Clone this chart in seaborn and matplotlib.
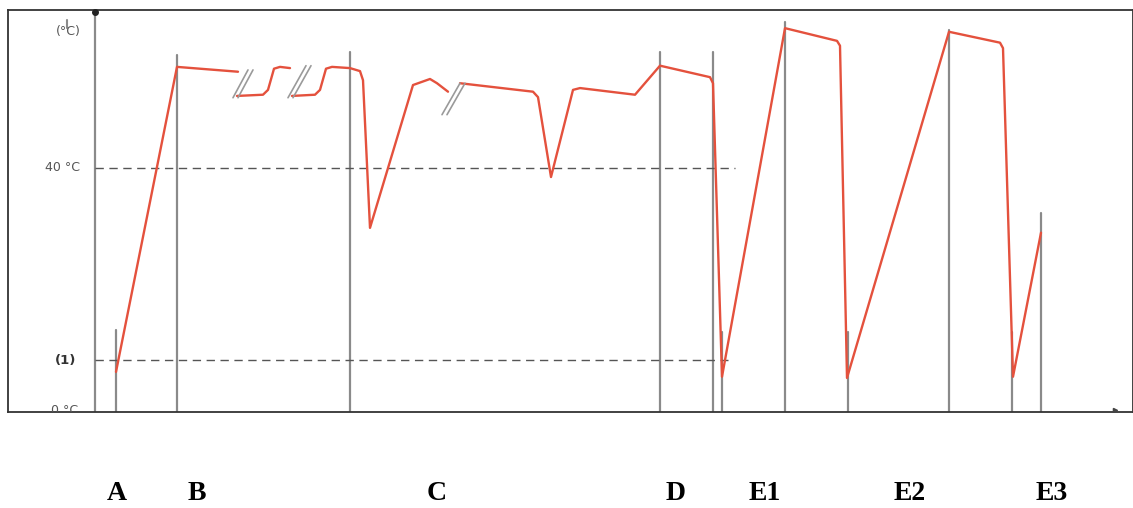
import numpy as np
import pandas as pd
import matplotlib
matplotlib.use("Agg")
import matplotlib.pyplot as plt
import seaborn as sns

# ---- data (time in arbitrary units, temperature in °C) ----
seg1_t = [116, 177, 238]
seg1_v = [6.3, 56.7, 55.9]
seg2_t = [237, 263, 268, 274, 280, 290]
seg2_v = [51.9, 52.1, 52.9, 56.4, 56.7, 56.5]
seg3_t = [292, 315, 320, 326, 332, 350, 360, 363, 370, 413, 430, 437, 448]
seg3_v = [51.9, 52.1, 52.9, 56.4, 56.7, 56.5, 56.0, 54.5, 30.1, 53.7, 54.7, 54.0, 52.6]
seg4_t = [460, 533, 538, 551, 573, 580, 635, 660, 710, 713, 722, 785, 837, 840, 847,
          949, 1000, 1003, 1013, 1041]
seg4_v = [54.0, 52.6, 51.7, 38.5, 52.9, 53.2, 52.1, 56.9, 55.0, 54.0, 5.5, 63.1, 61.0, 60.2, 5.3,
          62.5, 60.7, 59.8, 5.5, 29.3]

phase_t = [116, 177, 350, 660, 713, 722, 785, 848, 949, 1012, 1041]
phase_top = [13.2, 58.7, 59.2, 59.2, 59.2, 12.9, 64.1, 12.9, 62.8, 12.9, 32.6]

break_t0 = [233, 288, 442]
break_v0 = [51.6, 51.6, 48.8]
break_t1 = [248, 306, 460]
break_v1 = [56.2, 56.9, 54.0]

ref_levels = [40.0, 8.26]
ref_labels = ["40 °C", "(1)"]
ref_end = [735, 728]

phase_labels = ["A", "B", "C", "D", "E1", "E2", "E3"]
phase_label_x = [117, 197, 437, 676, 765, 910, 1052]

# ---- build dataframe ----
rows = []
for k, (tt, vv) in enumerate([(seg1_t, seg1_v), (seg2_t, seg2_v), (seg3_t, seg3_v), (seg4_t, seg4_v)]):
    for t, v in zip(tt, vv):
        rows.append({"t": t, "temp": v, "seg": k})
df = pd.DataFrame(rows)

sns.set_theme(style="white")
plt.rcParams["font.family"] = ["DejaVu Sans"]

W, H = 1133, 508
fig = plt.figure(figsize=(W / 100, H / 100), dpi=100)
ax = fig.add_axes([8 / W, (H - 412) / H, (W - 8) / W, (412 - 10) / H])

ymin, ymax = -0.33, 66.1
xmin, xmax = 8, 1133
ax.set_xlim(xmin, xmax)
ax.set_ylim(ymin, ymax)

gray = "#8a8a8a"
# phase vertical lines
for t, top in zip(phase_t, phase_top):
    ax.plot([t, t], [ymin, top], color=gray, lw=1.6, zorder=2)

# y axis line
ax.plot([95, 95], [ymin, ymax], color=gray, lw=1.6, zorder=2)
ax.plot([95], [ymax - 0.3], marker="o", ms=4, color="#222222", clip_on=False, zorder=5)
ax.plot([67, 67], [63.2, 64.5], color=gray, lw=1.5, zorder=2)

# reference dashed lines
for lvl, end in zip(ref_levels, ref_end):
    ax.plot([95, end], [lvl, lvl], color="#555555", lw=1.0, ls=(0, (6, 4)), zorder=2)

# temperature curve
sns.lineplot(data=df, x="t", y="temp", units="seg", estimator=None, sort=False,
             color="#e4513d", lw=1.7, ax=ax, zorder=4, legend=False)

# break marks
for a0, b0, a1, b1 in zip(break_t0, break_v0, break_t1, break_v1):
    for off in (0, 5):
        ax.plot([a0 + off, a1 + off], [b0, b1], color="#9a9a9a", lw=1.2, zorder=5)

# y labels
ax.text(68, 62.6, "(°C)", ha="center", va="center", fontsize=9, color="#555555")
ax.text(80, ref_levels[0], ref_labels[0], ha="right", va="center", fontsize=9, color="#555555")
ax.text(76, ref_levels[1], ref_labels[1], ha="right", va="center", fontsize=9.5,
        fontweight="bold", color="#333333")
ax.text(78, 0.0, "0 °C", ha="right", va="center", fontsize=9, color="#555555", clip_on=True)

# axes frame
ax.set_xticks([])
ax.set_yticks([])
ax.set_xlabel("")
ax.set_ylabel("")
for s in ax.spines.values():
    s.set_visible(True)
    s.set_color("#333333")
    s.set_linewidth(1.3)

# small arrow at x-axis end
ax.plot([1115], [0.0], marker=">", ms=3, color="#444444", zorder=5)

# phase letters below
for lab, x in zip(phase_labels, phase_label_x):
    fig.text(x / W, 1 - 493 / H, lab, ha="center", va="center", fontsize=20,
             fontweight="bold", family=["Liberation Serif"], color="black")

fig.savefig("out.png", dpi=100)
